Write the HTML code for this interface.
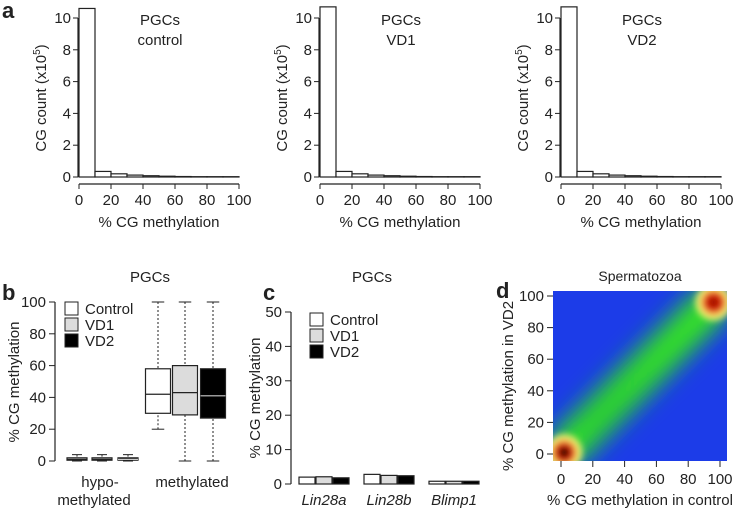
<!DOCTYPE html>
<html><head><meta charset="utf-8"><style>
body{margin:0;background:#fff;}
svg{display:block;font-family:"Liberation Sans",Arial,sans-serif;}
text{fill:#222;}
</style></head><body>
<svg id="fig" width="740" height="511" viewBox="0 0 740 511">
<defs>
<filter id="blur8" x="-50%" y="-50%" width="200%" height="200%"><feGaussianBlur stdDeviation="11"/></filter>
<filter id="blur4" x="-50%" y="-50%" width="200%" height="200%"><feGaussianBlur stdDeviation="3.5"/></filter>
<clipPath id="dclip"><rect x="553" y="291" width="174" height="170"/></clipPath>
</defs>
</svg>
<script>
const NS='http://www.w3.org/2000/svg';
const svg=document.getElementById('fig');
function el(tag,attrs,parent,txt){const e=document.createElementNS(NS,tag);for(const k in attrs)e.setAttribute(k,attrs[k]);if(txt!==undefined)e.textContent=txt;(parent||svg).appendChild(e);return e;}
const FS=15;

// ---------- Panel a data ----------
const histBins=[0,10,20,30,40,50,60,70,80,90];
const histControl=[10.6,0.35,0.2,0.12,0.08,0.05,0.03,0.02,0.02,0.02];
const histVD1=[10.7,0.35,0.2,0.12,0.08,0.05,0.03,0.02,0.02,0.02];
const histVD2=[10.7,0.35,0.2,0.12,0.08,0.05,0.03,0.02,0.02,0.02];
const histTitles=['control','VD1','VD2'];
const histYTicks=[0,2,4,6,8,10];
const histXTicks=[0,20,40,60,80,100];

// ---------- Panel b data ----------
const boxGroups=['hypo','methylated'];
const boxSeries=['Control','VD1','VD2'];
const boxLow=[[0,0,0],[20,0,0]];
const boxQ1=[[0.5,0.5,0.5],[30,29,27]];
const boxMed=[[1,1,1],[42,43,41]];
const boxQ3=[[2,2,2],[58,60,58]];
const boxHigh=[[4,4,4],[100,100,100]];
const boxYTicks=[0,20,40,60,80,100];
const fills=['#ffffff','#dcdcdc','#000000'];

// ---------- Panel c data ----------
const genes=['Lin28a','Lin28b','Blimp1'];
const geneControl=[2.0,2.8,0.8];
const geneVD1=[2.1,2.5,0.8];
const geneVD2=[1.8,2.4,0.8];
const barYTicks=[0,10,20,30,40,50];

// ---------- Panel d data ----------
const densX=[2,10,20,30,40,50,60,70,80,90,96];
const densY=[2,10,20,30,40,50,60,70,80,90,96];
const densW=[0.9,0.7,0.6,0.6,0.65,0.7,0.75,0.8,0.85,0.9,0.9];
const hotX=[2,96];
const hotY=[1,96];
const dTicks=[0,20,40,60,80,100];

// ---------- Panel a ----------
function hist(x0,vals,title){
  const g=el('g',{},svg);
  const sx=v=>x0+v*1.6, sy=v=>177-v*15.9;
  vals.forEach((v,i)=>{const r=el('rect',{x:sx(histBins[i]),y:sy(v),width:16,height:177-sy(v),fill:'#fff',stroke:'#222','stroke-width':1.2},g);
    });
  el('line',{x1:x0-1,y1:sy(0),x2:x0-1,y2:sy(10),stroke:'#222','stroke-width':1.2},g);
  histYTicks.forEach(t=>{el('line',{x1:x0-6,x2:x0-1,y1:sy(t),y2:sy(t),stroke:'#222'},g);el('text',{x:x0-8,y:sy(t)+5,'text-anchor':'end','font-size':FS},g,t);});
  el('line',{x1:sx(0),x2:sx(100),y1:184,y2:184,stroke:'#222','stroke-width':1.2},g);
  histXTicks.forEach(t=>{el('line',{x1:sx(t),x2:sx(t),y1:184,y2:189,stroke:'#222'},g);el('text',{x:sx(t),y:205,'text-anchor':'middle','font-size':FS},g,t);});
  el('text',{x:x0+80,y:227,'text-anchor':'middle','font-size':FS},g,'% CG methylation');
  const yl=el('text',{transform:`translate(${x0-33},98) rotate(-90)`,'text-anchor':'middle','font-size':FS},g,'CG count (x10');
  el('tspan',{'font-size':10,dy:-6},yl,'5');el('tspan',{dy:6},yl,')');
  el('text',{x:x0+81,y:25,'text-anchor':'middle','font-size':FS},g,'PGCs');
  el('text',{x:x0+81,y:45,'text-anchor':'middle','font-size':FS},g,title);
}
hist(79,histControl,histTitles[0]);hist(320,histVD1,histTitles[1]);hist(561,histVD2,histTitles[2]);
const la=el('text',{x:2,y:18,'font-size':22,'font-weight':'bold'},svg,'a');

// ---------- Panel b ----------
(function(){
  const g=el('g',{},svg);
  const sy=v=>461-v*1.59;
  const centers=[[77,102,128],[158,185,213]], w=[20,25];
  el('line',{x1:55,x2:55,y1:sy(0),y2:sy(100),stroke:'#222','stroke-width':1.2},g);
  boxYTicks.forEach(t=>{el('line',{x1:49,x2:55,y1:sy(t),y2:sy(t),stroke:'#222'},g);el('text',{x:46,y:sy(t)+5,'text-anchor':'end','font-size':FS},g,t);});
  boxGroups.forEach((gr,gi)=>boxSeries.forEach((s,si)=>{
    const c=centers[gi][si],hw=w[gi]/2;
    const bg=el('g',{},g);
    el('line',{x1:c,x2:c,y1:sy(boxHigh[gi][si]),y2:sy(boxQ3[gi][si]),stroke:'#222','stroke-dasharray':'2,2'},bg);
    el('line',{x1:c,x2:c,y1:sy(boxLow[gi][si]),y2:sy(boxQ1[gi][si]),stroke:'#222','stroke-dasharray':'2,2'},bg);
    el('line',{x1:c-hw/2,x2:c+hw/2,y1:sy(boxHigh[gi][si]),y2:sy(boxHigh[gi][si]),stroke:'#222'},bg);
    el('line',{x1:c-hw/2,x2:c+hw/2,y1:sy(boxLow[gi][si]),y2:sy(boxLow[gi][si]),stroke:'#222'},bg);
    el('rect',{x:c-hw,y:sy(boxQ3[gi][si]),width:2*hw,height:Math.max(2,sy(boxQ1[gi][si])-sy(boxQ3[gi][si])),fill:fills[si],stroke:'#222','stroke-width':1.2},bg);
    el('line',{x1:c-hw,x2:c+hw,y1:sy(boxMed[gi][si]),y2:sy(boxMed[gi][si]),stroke:si==2?'#ccc':'#222','stroke-width':1.2},bg);
  }));
  boxSeries.forEach((s,i)=>{const lg=el('g',{},g);
    el('rect',{x:65,y:302+i*16,width:13,height:13,fill:fills[i],stroke:'#222'},lg);el('text',{x:85,y:314+i*16,'font-size':FS},lg,s);});
  el('text',{x:150,y:282,'text-anchor':'middle','font-size':FS},g,'PGCs');
  el('text',{x:100,y:487,'text-anchor':'middle','font-size':FS},g,'hypo-');
  el('text',{x:94,y:505,'text-anchor':'middle','font-size':FS},g,'methylated');
  el('text',{x:192,y:487,'text-anchor':'middle','font-size':FS},g,'methylated');
  el('text',{transform:'translate(19,382) rotate(-90)','text-anchor':'middle','font-size':FS},g,'% CG methylation');
  el('text',{x:2,y:300,'font-size':22,'font-weight':'bold'},g,'b');
})();

// ---------- Panel c ----------
(function(){
  const g=el('g',{},svg);
  const sy=v=>484-v*3.44;
  const centers=[324,389,454], bw=16;
  el('line',{x1:291,x2:291,y1:sy(0),y2:sy(50),stroke:'#222','stroke-width':1.2},g);
  barYTicks.forEach(t=>{el('line',{x1:285,x2:291,y1:sy(t),y2:sy(t),stroke:'#222'},g);el('text',{x:282,y:sy(t)+5,'text-anchor':'end','font-size':FS},g,t);});
  const series=[geneControl,geneVD1,geneVD2];
  genes.forEach((gn,gi)=>{series.forEach((arr,si)=>{
    const x=centers[gi]+(si-1)*(bw+1)-bw/2;
    const r=el('rect',{x:x,y:sy(arr[gi]),width:bw,height:sy(0)-sy(arr[gi]),fill:fills[si],stroke:'#222','stroke-width':1.2},g);
    });
    el('text',{x:centers[gi],y:505,'text-anchor':'middle','font-size':FS,'font-style':'italic'},g,gn);});
  boxSeries.forEach((s,i)=>{const lg=el('g',{},g);
    el('rect',{x:310,y:313+i*16,width:13,height:13,fill:fills[i],stroke:'#222'},lg);el('text',{x:330,y:325+i*16,'font-size':FS},lg,s);});
  el('text',{x:372,y:282,'text-anchor':'middle','font-size':FS},g,'PGCs');
  el('text',{transform:'translate(260,398) rotate(-90)','text-anchor':'middle','font-size':FS},g,'% CG methylation');
  el('text',{x:263,y:300,'font-size':22,'font-weight':'bold'},g,'c');
})();

// ---------- Panel d ----------
(function(){
  const g=el('g',{},svg);
  const sx=v=>561+v*1.59, sy=v=>454-v*1.58;
  const plot=el('g',{'clip-path':'url(#dclip)'},g);
  el('rect',{x:553,y:291,width:174,height:170,fill:'#1c3ce8'},plot);
  const band=el('g',{filter:'url(#blur8)'},plot);
  const pts=densX.map((v,i)=>sx(v)+','+sy(densY[i])).join(' ');
  el('polyline',{points:pts,stroke:'#20c830','stroke-width':44,fill:'none','stroke-opacity':0.85},band);
  densX.forEach((v,i)=>{const c=el('circle',{cx:sx(v),cy:sy(densY[i]),r:13,fill:'#3cf020','fill-opacity':densW[i]},band);
    });
  const hot=el('g',{filter:'url(#blur4)'},plot);
  hotX.forEach((v,i)=>{el('circle',{cx:sx(v),cy:sy(hotY[i]),r:18,fill:'#f8f070'},hot);
    el('circle',{cx:sx(v),cy:sy(hotY[i]),r:12,fill:'#e63010'},hot);
    el('circle',{cx:sx(v),cy:sy(hotY[i]),r:6,fill:i==0?'#100000':'#a01000'},hot);});
  dTicks.forEach(t=>{el('line',{x1:sx(t),x2:sx(t),y1:461,y2:467,stroke:'#222'},g);el('text',{x:sx(t),y:484,'text-anchor':'middle','font-size':FS},g,t);
    el('line',{x1:547,x2:553,y1:sy(t),y2:sy(t),stroke:'#222'},g);el('text',{x:544,y:sy(t)+5,'text-anchor':'end','font-size':FS},g,t);});
  el('text',{x:640,y:281,'text-anchor':'middle','font-size':14},g,'Spermatozoa');
  el('text',{x:640,y:505,'text-anchor':'middle','font-size':FS},g,'% CG methylation in control');
  el('text',{transform:'translate(513,386) rotate(-90)','text-anchor':'middle','font-size':FS},g,'% CG methylation in VD2');
  el('text',{x:496,y:298,'font-size':22,'font-weight':'bold'},g,'d');
})();
</script>
</body></html>
